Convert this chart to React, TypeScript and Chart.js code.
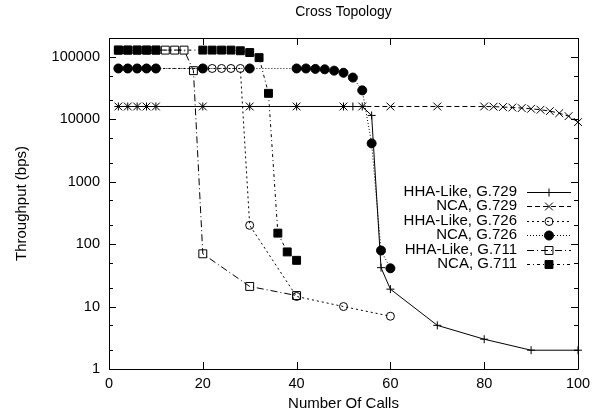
import React, { useEffect, useRef } from 'react';
import { Chart, registerables } from 'chart.js';

Chart.register(...registerables);

// ---- data ----
const seriesLabels = [
  'HHA-Like, G.729',
  'NCA, G.729',
  'HHA-Like, G.726',
  'NCA, G.726',
  'HHA-Like, G.711',
  'NCA, G.711',
];

const hhaG729Calls = [2, 4, 6, 8, 10, 20, 30, 40, 50, 52, 54, 56, 58, 60, 70, 80, 90, 100];
const hhaG729Bps = [16000, 16000, 16000, 16000, 16000, 16000, 16000, 16000, 16000, 16000, 16000, 11500, 42, 19, 5, 3, 2, 2];

const ncaG729Calls = [2, 4, 6, 8, 10, 20, 30, 40, 50, 54, 60, 70, 80, 82, 84, 86, 88, 90, 92, 94, 96, 98, 100];
const ncaG729Bps = [16000, 16000, 16000, 16000, 16000, 16000, 16000, 16000, 16000, 16000, 16000, 16000, 16000, 15900, 15700, 15400, 15100, 14700, 14200, 13500, 12500, 11200, 9000];

const hhaG726Calls = [2, 4, 6, 8, 10, 20, 22, 24, 26, 28, 30, 40, 50, 60];
const hhaG726Bps = [65000, 65000, 65000, 65000, 65000, 65000, 65000, 65000, 65000, 65000, 200, 14.5, 10, 7];

const ncaG726Calls = [2, 4, 6, 8, 10, 20, 30, 40, 42, 44, 46, 48, 50, 52, 54, 56, 58, 60];
const ncaG726Bps = [65000, 65000, 65000, 65000, 65000, 65000, 65000, 65000, 65000, 64000, 63000, 60000, 55500, 46500, 29000, 4100, 79, 41];

const hhaG711Calls = [2, 4, 6, 8, 10, 12, 14, 16, 18, 20, 30, 40];
const hhaG711Bps = [128000, 128000, 128000, 128000, 128000, 128000, 128000, 128000, 60000, 70, 21, 15];

const ncaG711Calls = [2, 4, 6, 8, 10, 20, 22, 24, 26, 28, 30, 32, 34, 36, 38, 40];
const ncaG711Bps = [128000, 128000, 128000, 128000, 128000, 128000, 128000, 128000, 128000, 125000, 117000, 97000, 26000, 150, 75, 55];

const xTickValues = [0, 20, 40, 60, 80, 100];
const yTickValues = [1, 10, 100, 1000, 10000, 100000];
const yMinorValues = [2, 5, 20, 50, 200, 500, 2000, 5000, 20000, 50000, 200000];

const FONT = '"Liberation Sans", Arial, Helvetica, sans-serif';

type Style = {
  pointStyle: string;
  radius: number;
  filled: boolean;
  dash: number[];
};

const styles: Style[] = [
  { pointStyle: 'cross', radius: 4, filled: false, dash: [] },
  { pointStyle: 'crossRot', radius: 5.5, filled: false, dash: [5, 3] },
  { pointStyle: 'circle', radius: 4, filled: false, dash: [2, 3] },
  { pointStyle: 'circle', radius: 4.5, filled: true, dash: [1, 2] },
  { pointStyle: 'rect', radius: 5.6, filled: false, dash: [7, 3, 1, 3] },
  { pointStyle: 'rect', radius: 5.6, filled: true, dash: [3, 3, 1, 3] },
];

const allCalls = [hhaG729Calls, ncaG729Calls, hhaG726Calls, ncaG726Calls, hhaG711Calls, ncaG711Calls];
const allBps = [hhaG729Bps, ncaG729Bps, hhaG726Bps, ncaG726Bps, hhaG711Bps, ncaG711Bps];

function drawMarker(ctx: CanvasRenderingContext2D, st: Style, x: number, y: number) {
  const r = st.radius;
  ctx.save();
  ctx.setLineDash([]);
  ctx.lineWidth = 1;
  ctx.strokeStyle = '#000';
  ctx.fillStyle = '#000';
  ctx.beginPath();
  if (st.pointStyle === 'cross') {
    ctx.moveTo(x - r, y);
    ctx.lineTo(x + r, y);
    ctx.moveTo(x, y - r);
    ctx.lineTo(x, y + r);
    ctx.stroke();
  } else if (st.pointStyle === 'crossRot') {
    const d = r * Math.SQRT1_2;
    ctx.moveTo(x - d, y - d);
    ctx.lineTo(x + d, y + d);
    ctx.moveTo(x - d, y + d);
    ctx.lineTo(x + d, y - d);
    ctx.stroke();
  } else if (st.pointStyle === 'circle') {
    ctx.arc(x, y, r, 0, Math.PI * 2);
    if (st.filled) ctx.fill();
    ctx.stroke();
  } else {
    const s = r * Math.SQRT1_2;
    ctx.rect(x - s, y - s, 2 * s, 2 * s);
    if (st.filled) ctx.fill();
    ctx.stroke();
  }
  ctx.restore();
}

const framePlugin = {
  id: 'gnuFrame',
  beforeDatasetsDraw(chart: any) {
    const { ctx, chartArea: a, scales } = chart;
    const xs = scales.x;
    const ys = scales.y;
    ctx.save();
    ctx.strokeStyle = '#000';
    ctx.lineWidth = 1;
    ctx.setLineDash([]);
    ctx.beginPath();
    ctx.rect(Math.round(a.left) + 0.5, Math.round(a.top) + 0.5, Math.round(a.right - a.left), Math.round(a.bottom - a.top));
    ctx.stroke();
    ctx.beginPath();
    for (const v of xTickValues) {
      const px = Math.round(xs.getPixelForValue(v)) + 0.5;
      ctx.moveTo(px, a.bottom);
      ctx.lineTo(px, a.bottom - 7);
      ctx.moveTo(px, a.top);
      ctx.lineTo(px, a.top + 7);
    }
    for (const v of yTickValues) {
      const py = Math.round(ys.getPixelForValue(v)) + 0.5;
      ctx.moveTo(a.left, py);
      ctx.lineTo(a.left + 7, py);
      ctx.moveTo(a.right, py);
      ctx.lineTo(a.right - 7, py);
    }
    for (const v of yMinorValues) {
      const py = Math.round(ys.getPixelForValue(v)) + 0.5;
      if (py < a.top || py > a.bottom) continue;
      ctx.moveTo(a.left, py);
      ctx.lineTo(a.left + 4, py);
      ctx.moveTo(a.right, py);
      ctx.lineTo(a.right - 4, py);
    }
    ctx.stroke();
    ctx.restore();
  },
  afterDraw(chart: any) {
    const { ctx, chartArea: a } = chart;
    ctx.save();
    ctx.fillStyle = '#000';
    ctx.font = `14px ${FONT}`;
    ctx.textAlign = 'center';
    ctx.textBaseline = 'middle';
    ctx.fillText('Cross Topology', (a.left + a.right) / 2, 12);

    // legend
    const textRight = 517;
    const lineL = 527;
    const lineR = 571;
    const markX = 549;
    ctx.font = `15px ${FONT}`;
    ctx.textAlign = 'right';
    seriesLabels.forEach((lab, i) => {
      const y = 191.5 + i * 14.5;
      ctx.fillStyle = '#000';
      ctx.fillText(lab, textRight, y);
      const st = styles[i];
      ctx.save();
      ctx.strokeStyle = '#000';
      ctx.lineWidth = 1;
      ctx.setLineDash(st.dash);
      ctx.beginPath();
      ctx.moveTo(lineL, Math.round(y) + 0.5);
      ctx.lineTo(lineR, Math.round(y) + 0.5);
      ctx.stroke();
      ctx.restore();
      drawMarker(ctx, st, markX, Math.round(y) + 0.5);
    });
    ctx.restore();
  },
};

export default function App() {
  const ref = useRef<HTMLCanvasElement | null>(null);

  useEffect(() => {
    document.body.style.margin = '0';
    const canvas = ref.current;
    if (!canvas) return;

    const datasets = allCalls.map((calls, i) => {
      const st = styles[i];
      return {
        label: seriesLabels[i],
        data: calls.map((c, j) => ({ x: c, y: allBps[i][j] })),
        borderColor: '#000',
        borderWidth: 1,
        borderDash: st.dash,
        backgroundColor: st.filled ? '#000' : 'rgba(0,0,0,0)',
        pointStyle: st.pointStyle,
        pointRadius: st.radius,
        pointBorderWidth: 1,
        pointBorderColor: '#000',
        pointBackgroundColor: st.filled ? '#000' : 'rgba(0,0,0,0)',
        tension: 0,
        fill: false,
        clip: false,
        order: 6 - i,
      };
    });

    const chart = new Chart(canvas, {
      type: 'line',
      data: { datasets },
      options: {
        animation: false,
        responsive: false,
        maintainAspectRatio: false,
        events: [],
        layout: { padding: { top: 38, right: 23, bottom: 0, left: 0 } },
        plugins: {
          legend: { display: false },
          title: { display: false },
          tooltip: { enabled: false },
        },
        scales: {
          x: {
            type: 'linear',
            min: 0,
            max: 100,
            afterBuildTicks: (s: any) => {
              s.ticks = xTickValues.map((v) => ({ value: v }));
            },
            afterFit: (s: any) => {
              s.height = 45;
            },
            grid: { display: false, drawTicks: false },
            border: { display: false },
            ticks: {
              color: '#000',
              font: { family: FONT, size: 14.5 },
              padding: 6,
              maxRotation: 0,
              callback: (v: any) => String(v),
            },
            title: {
              display: true,
              text: 'Number Of Calls',
              color: '#000',
              font: { family: FONT, size: 15 },
              padding: { top: 0, bottom: 1 },
            },
          },
          y: {
            type: 'logarithmic',
            min: 1,
            max: 200000,
            afterBuildTicks: (s: any) => {
              s.ticks = yTickValues.map((v) => ({ value: v }));
            },
            afterFit: (s: any) => {
              s.width = 109;
            },
            grid: { display: false, drawTicks: false },
            border: { display: false },
            ticks: {
              color: '#000',
              font: { family: FONT, size: 14.5 },
              padding: 9,
              callback: (v: any) => String(v),
            },
            title: {
              display: true,
              text: 'Throughput (bps)',
              color: '#000',
              font: { family: FONT, size: 15 },
              padding: { top: 12.5, bottom: 0 },
            },
          },
        },
      },
      plugins: [framePlugin],
    } as any);

    return () => chart.destroy();
  }, []);

  return (
    <div style={{ position: 'relative', width: 601, height: 414, background: '#fff' }}>
      <canvas ref={ref} width={601} height={414} style={{ display: 'block', width: 601, height: 414 }} />
    </div>
  );
}
